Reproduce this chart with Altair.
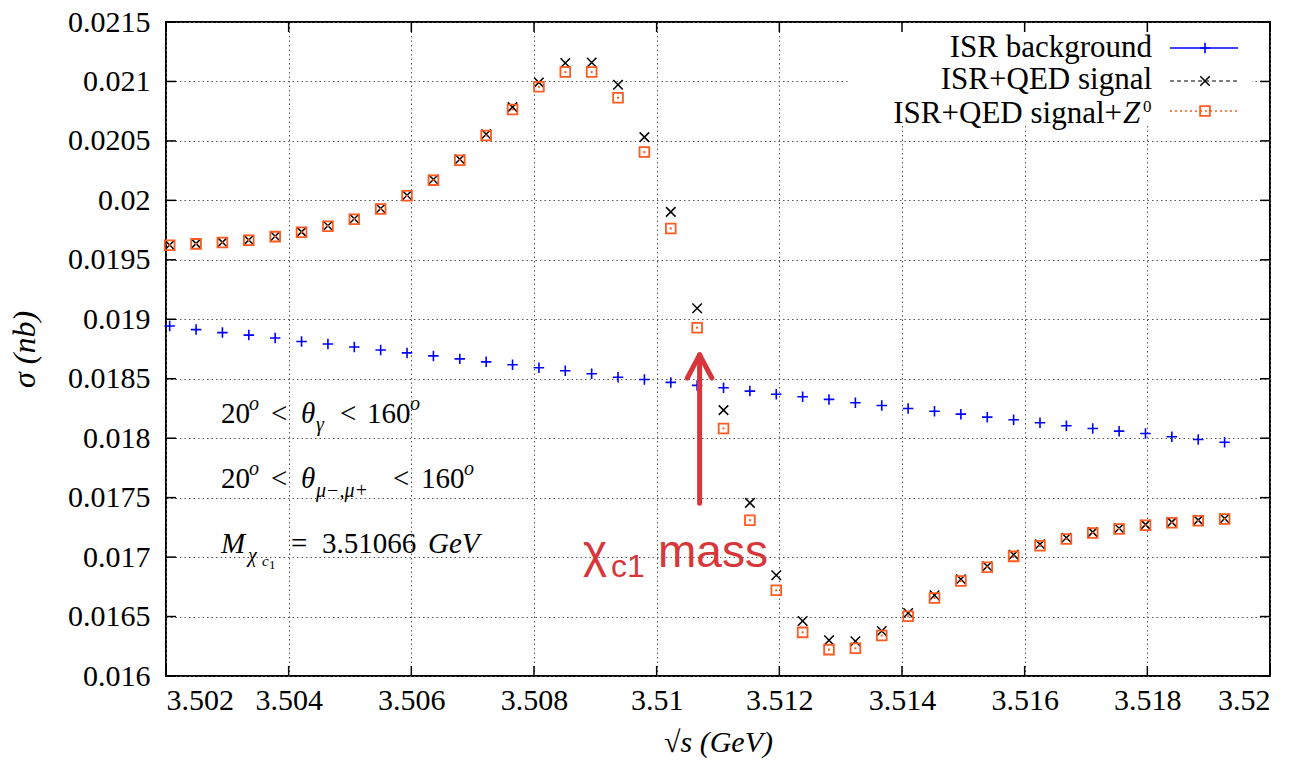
import altair as alt
import pandas as pd

# ---------------- data ----------------
sqrt_s = [3.50206, 3.50249, 3.50292, 3.50335, 3.50378, 3.50421, 3.50464, 3.50507,
          3.50550, 3.50593, 3.50636, 3.50679, 3.50722, 3.50765, 3.50808, 3.50851,
          3.50894, 3.50937, 3.50980, 3.51023, 3.51066, 3.51109, 3.51152, 3.51195,
          3.51238, 3.51281, 3.51324, 3.51367, 3.51410, 3.51453, 3.51496, 3.51539,
          3.51582, 3.51625, 3.51668, 3.51711, 3.51754, 3.51797, 3.51840, 3.51883,
          3.51926]

isr_background = [0.018944, 0.018913, 0.018888, 0.018867, 0.018842, 0.018813, 0.018792,
                  0.018767, 0.018742, 0.018717, 0.018692, 0.018667, 0.018642, 0.018617,
                  0.018592, 0.018567, 0.018542, 0.018513, 0.018494, 0.018469, 0.018444,
                  0.018424, 0.018396, 0.018370, 0.018348, 0.018326, 0.018298, 0.018275,
                  0.018250, 0.018227, 0.018202, 0.018177, 0.018155, 0.018130, 0.018104,
                  0.018082, 0.018059, 0.018040, 0.018012, 0.017989, 0.017966]

isr_qed_signal = [0.019625, 0.019636, 0.019647, 0.019667, 0.019698, 0.019735, 0.019786,
                  0.019846, 0.019932, 0.020043, 0.020176, 0.020346, 0.020556, 0.020784,
                  0.020992, 0.021155, 0.021160, 0.020972, 0.020532, 0.019903, 0.019092,
                  0.018236, 0.017456, 0.016847, 0.016463, 0.016300, 0.016292, 0.016378,
                  0.016530, 0.016679, 0.016814, 0.016923, 0.017020, 0.017108, 0.017162,
                  0.017210, 0.017243, 0.017273, 0.017294, 0.017311, 0.017324]

isr_qed_signal_z0 = [0.019623, 0.019634, 0.019645, 0.019665, 0.019695, 0.019732, 0.019783,
                     0.019842, 0.019928, 0.020038, 0.020170, 0.020338, 0.020545, 0.020764,
                     0.020955, 0.021079, 0.021079, 0.020863, 0.020406, 0.019764, 0.018929,
                     0.018082, 0.017310, 0.016721, 0.016367, 0.016222, 0.016233, 0.016340,
                     0.016502, 0.016656, 0.016799, 0.016915, 0.017006, 0.017095, 0.017152,
                     0.017202, 0.017236, 0.017267, 0.017289, 0.017306, 0.017320]

x_ticks = [3.502, 3.504, 3.506, 3.508, 3.510, 3.512, 3.514, 3.516, 3.518, 3.520]
y_ticks = [0.016, 0.0165, 0.017, 0.0175, 0.018, 0.0185, 0.019, 0.0195, 0.020,
           0.0205, 0.021, 0.0215]

chi_c1_mass = 3.5107
arrow_y = [0.017453, 0.0187]
arrow_head_y = 0.018506
arrow_head_dx = 0.0002

# ---------------- style ----------------
W, H = 1104, 654
L, T = 166, 22
SERIF = "Liberation Serif"
SANS = "Liberation Sans"
BLUE = "#0000ff"
ORANGE = "#ff5a1f"
RED = "#d7373b"
PLUS = "M-1,0L1,0M0,-1L0,1"
CROSS = "M-1,-1L1,1M-1,1L1,-1"

df = pd.DataFrame({"x": sqrt_s, "bg": isr_background, "qed": isr_qed_signal,
                   "z0": isr_qed_signal_z0})
one = pd.DataFrame({"a": [0]})

xs = alt.Scale(domain=[3.502, 3.52], nice=False, zero=False)
ys = alt.Scale(domain=[0.016, 0.0215], nice=False, zero=False)

base = alt.Chart(df)

xaxis = alt.Axis(values=x_ticks, format="~g", title="√s (GeV)", ticks=False, domain=False,
                 grid=True, labelPadding=9, titlePadding=12,
                 labelFont=SERIF, labelFontSize=30, titleFont=SERIF, titleFontSize=30)
yaxis = alt.Axis(values=y_ticks, format="~g", title="σ (nb)", ticks=False, domain=False,
                 grid=True, labelPadding=16, titlePadding=26,
                 labelFont=SERIF, labelFontSize=30, titleFont=SERIF, titleFontSize=32)

bg_layer = base.mark_point(shape=PLUS, size=110, filled=False, strokeWidth=1.6,
                           color=BLUE, opacity=1).encode(
    x=alt.X("x:Q", scale=xs, axis=xaxis),
    y=alt.Y("bg:Q", scale=ys, axis=yaxis))

qed_layer = base.mark_point(shape=CROSS, size=90, filled=False, strokeWidth=1.5,
                            color="black", opacity=1).encode(
    x=alt.X("x:Q", scale=xs), y=alt.Y("qed:Q", scale=ys))

z0_layer = base.mark_point(shape="square", size=95, filled=False, strokeWidth=1.8,
                           color=ORANGE, opacity=1).encode(
    x=alt.X("x:Q", scale=xs), y=alt.Y("z0:Q", scale=ys))

z0_dot = base.mark_point(shape="square", size=4, filled=True,
                         color=ORANGE, opacity=1).encode(
    x=alt.X("x:Q", scale=xs), y=alt.Y("z0:Q", scale=ys))

# inward ticks on all four sides (gnuplot style)
xt = alt.Chart(pd.DataFrame({"t": x_ticks}))
yt = alt.Chart(pd.DataFrame({"t": y_ticks}))
tick_b = xt.mark_rule(color="black", strokeWidth=1.5).encode(
    x=alt.X("t:Q", scale=xs), y=alt.value(H), y2=alt.value(H - 10))
tick_t = xt.mark_rule(color="black", strokeWidth=1.5).encode(
    x=alt.X("t:Q", scale=xs), y=alt.value(0), y2=alt.value(10))
tick_l = yt.mark_rule(color="black", strokeWidth=1.5).encode(
    y=alt.Y("t:Q", scale=ys), x=alt.value(0), x2=alt.value(10))
tick_r = yt.mark_rule(color="black", strokeWidth=1.5).encode(
    y=alt.Y("t:Q", scale=ys), x=alt.value(W), x2=alt.value(W - 10))


def txt(px, py, s, size=28, style="normal", font=SERIF, align="left", color="black"):
    return alt.Chart(one).mark_text(
        text=s, font=font, fontSize=size, fontStyle=style, align=align,
        baseline="alphabetic", color=color).encode(
        x=alt.value(px - L), y=alt.value(py - T))


def hrule(x1, x2, py, color, dash=None, width=1.5):
    kw = dict(color=color, strokeWidth=width)
    if dash:
        kw["strokeDash"] = dash
    return alt.Chart(one).mark_rule(**kw).encode(
        x=alt.value(x1 - L), x2=alt.value(x2 - L), y=alt.value(py - T))


def sym(px, py, shape, size, color, width=1.5):
    return alt.Chart(one).mark_point(shape=shape, size=size, filled=False,
                                     strokeWidth=width, color=color, opacity=1).encode(
        x=alt.value(px - L), y=alt.value(py - T))


# legend box (white background hiding the grid)
legend_bg = alt.Chart(one).mark_rect(color="white").encode(
    x=alt.value(850 - L), x2=alt.value(1252 - L), y=alt.value(1.5), y2=alt.value(126 - T))

legend = [
    legend_bg,
    txt(1152, 57, "ISR background", 31, align="right"),
    txt(1152, 89, "ISR+QED signal", 31, align="right"),
    txt(1122, 123, "ISR+QED signal+", 31, align="right"),
    txt(1123, 123, "Z", 31, style="italic"),
    txt(1143, 112, "0", 17),
    hrule(1170, 1238, 48, BLUE),
    sym(1205, 48, PLUS, 110, BLUE, 1.6),
    hrule(1170, 1238, 81, "black", [4, 3], 1.2),
    sym(1205, 81, CROSS, 90, "black"),
    hrule(1170, 1238, 111, ORANGE, [2, 3], 1.5),
    sym(1205, 111, "square", 95, ORANGE, 1.8),
]

# cut annotations (left)
notes = [
    txt(221, 423, "20", 29),
    txt(249, 410, "o", 20, style="italic"),
    txt(271, 423, "<", 29),
    txt(301, 423, "θ", 29, style="italic"),
    txt(316, 431, "γ", 20, style="italic"),
    txt(340, 423, "<", 29),
    txt(367, 423, "160", 29),
    txt(410, 410, "o", 20, style="italic"),

    txt(221, 488, "20", 29),
    txt(249, 475, "o", 20, style="italic"),
    txt(271, 488, "<", 29),
    txt(301, 488, "θ", 29, style="italic"),
    txt(316, 497, "μ−,μ+", 20, style="italic"),
    txt(393, 488, "<", 29),
    txt(421, 488, "160", 29),
    txt(464, 475, "o", 20, style="italic"),

    txt(221, 553, "M", 29, style="italic"),
    txt(248, 562, "χ", 20, style="italic"),
    txt(262, 566, "c", 15, style="italic"),
    txt(269, 569, "1", 13),
    txt(291, 553, "=", 29),
    txt(322, 553, "3.51066", 29),
    txt(428, 553, "GeV", 29, style="italic"),
]

# red arrow marking the chi_c1 mass
arrow_df = pd.DataFrame({
    "x": [chi_c1_mass, chi_c1_mass - arrow_head_dx, chi_c1_mass + arrow_head_dx],
    "x2": [chi_c1_mass, chi_c1_mass, chi_c1_mass],
    "y": [arrow_y[0], arrow_head_y, arrow_head_y],
    "y2": [arrow_y[1], arrow_y[1], arrow_y[1]],
})
arrow = alt.Chart(arrow_df).mark_rule(color=RED, strokeWidth=5, strokeCap="round").encode(
    x=alt.X("x:Q", scale=xs), x2="x2:Q", y=alt.Y("y:Q", scale=ys), y2="y2:Q")

mass_label = [
    txt(583, 567, "χ", 46, font=SANS, color=RED),
    txt(611, 577, "c1", 32, font=SANS, color=RED),
    txt(658, 567, "mass", 46, font=SANS, color=RED),
]

chart = alt.layer(
    bg_layer, qed_layer, z0_layer, z0_dot,
    arrow, *mass_label, *notes, *legend,
    tick_b, tick_t, tick_l, tick_r,
).properties(
    width=W, height=H,
    padding={"left": L, "top": T, "right": 1299 - L - W, "bottom": 771 - T - H},
    autosize=alt.AutoSizeParams(type="none"),
    background="white",
).configure_view(
    stroke="black", strokeWidth=2
).configure_axis(
    labelFont=SERIF, labelFontSize=30, labelColor="black",
    titleFont=SERIF, titleFontSize=30, titleFontStyle="italic",
    titleFontWeight="normal", titleColor="black",
    gridColor="#555555", gridDash=[1.5, 3], gridWidth=1, gridOpacity=1,
)

chart.save("out.html", embed_options={"renderer": "svg", "actions": False})
